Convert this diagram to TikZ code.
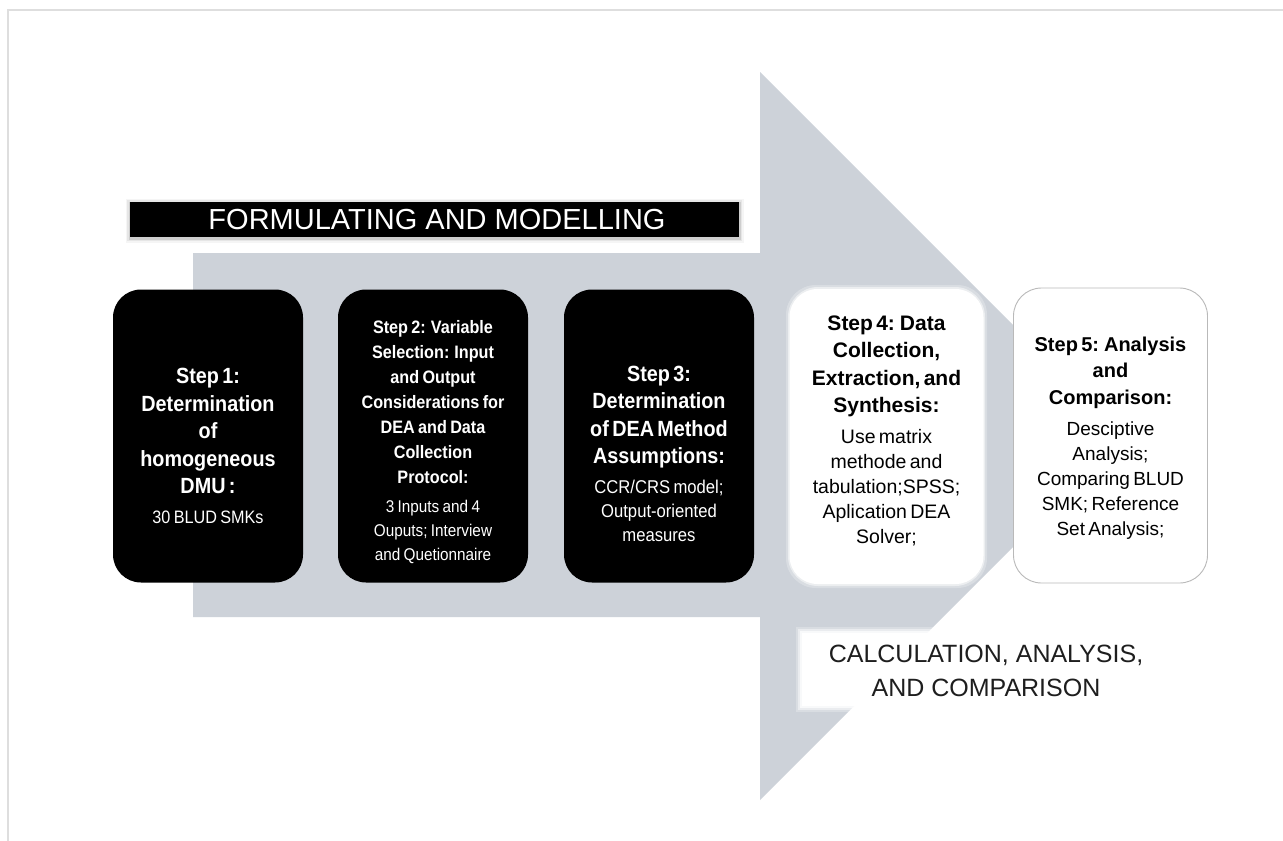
\documentclass[tikz,border=0pt]{standalone}
\usepackage{fontspec}
\setmainfont{Liberation Sans}
\newfontfamily\narrowfont[FakeStretch=0.9]{Liberation Sans}
\usetikzlibrary{positioning}
\definecolor{arrowgray}{RGB}{205,210,217}
\definecolor{framegray}{RGB}{222,222,222}
\definecolor{boxline}{RGB}{185,185,185}
\definecolor{darktext}{RGB}{30,30,30}
\tikzset{
  blackbox/.style={rectangle, rounded corners=28pt, fill=black, minimum width=190pt, minimum height=293pt, inner sep=0pt},
  whitebox/.style={rectangle, rounded corners=28pt, fill=white, minimum width=194pt, minimum height=295pt, inner sep=0pt},
  txtw/.style={align=center, text width=184pt, inner sep=0pt, text=white},
  txtb/.style={align=center, text width=184pt, inner sep=0pt, text=black},
}
\begin{document}
\begin{tikzpicture}[x=1pt,y=-1pt]
\useasboundingbox (0,0) rectangle (1283,841);
\fill[white] (0,0) rectangle (1283,841);
% page frame
\draw[framegray, line width=2pt] (8,841) -- (8,10) -- (1283,10);
% big arrow
\fill[arrowgray] (193,253) -- (760,253) -- (760,72) -- (1124,436) -- (760,800) -- (760,617) -- (193,617) -- cycle;
% white label area for the bottom caption (soft edges)
\foreach \d/\o in {6/0.25,4/0.45,2/0.7}{
  \fill[white, opacity=\o] (802-\d,633-\d) rectangle (1165+\d,706+\d);
}
\fill[white] (802,633) rectangle (1165,706);
\node[text=darktext, align=center, font=\fontsize{25}{34}\selectfont] (calc) at (986,671) {CALCULATION, ANALYSIS,\\AND COMPARISON};
% banner with soft shadow
\foreach \d/\o in {4.5/0.04,3/0.06,1.5/0.1}{
  \fill[black, opacity=\o] (130-\d,202-\d+1) rectangle (739+\d,237+\d+1);
}
\node[fill=black, minimum width=609pt, minimum height=35pt, inner sep=0pt, anchor=north west] (banner) at (130,202) {};
\node[text=white, font=\fontsize{29}{32}\selectfont] (bannertxt) at (437,220) {FORMULATING AND MODELLING};
% step boxes
\node[blackbox] (s1) at (208,436) {};
\node[blackbox] (s2) at (433,436) {};
\node[blackbox] (s3) at (659,436) {};
\foreach \d/\o in {4/0.25,2/0.5}{
  \fill[white, opacity=\o, rounded corners=30pt] (790-\d,289-\d) rectangle (983+\d,584+\d);
}
\node[whitebox] (s4) at (886.5,436.5) {};
\node[whitebox, draw=boxline, line width=0.9pt] (s5) at (1110.5,435.5) {};
% texts
\node[txtw] (t1) at (208,446) {{\narrowfont\bfseries\fontsize{22}{27.5}\selectfont Step 1:\\Determination\\of\\homogeneous\\DMU :\par}\vspace{6pt}{\narrowfont\fontsize{18}{24}\selectfont 30 BLUD SMKs\par}};
\node[txtw] (t2) at (433,442) {{\narrowfont\bfseries\fontsize{18}{25}\selectfont Step 2: Variable\\Selection: Input\\and Output\\Considerations for\\DEA and Data\\Collection\\Protocol:\par}\vspace{5pt}{\narrowfont\fontsize{17}{24}\selectfont 3 Inputs and 4\\Ouputs; Interview\\and Quetionnaire\par}};
\node[txtw] (t3) at (659,454) {{\narrowfont\bfseries\fontsize{22}{27.5}\selectfont Step 3:\\Determination\\of DEA Method\\Assumptions:\par}\vspace{6pt}{\narrowfont\fontsize{18.5}{24}\selectfont CCR/CRS model;\\Output-oriented\\measures\par}};
\node[txtb] (t4) at (886.5,431) {{\bfseries\fontsize{21}{27.5}\selectfont Step 4: Data\\Collection,\\Extraction, and\\Synthesis:\par}\vspace{6pt}{\fontsize{19.5}{25}\selectfont Use matrix\\methode and\\tabulation;SPSS;\\Aplication DEA\\Solver;\par}};
\node[txtb] (t5) at (1110.5,438) {{\bfseries\fontsize{20}{26.5}\selectfont Step 5: Analysis\\and\\Comparison:\par}\vspace{6pt}{\fontsize{19}{25}\selectfont Desciptive\\Analysis;\\Comparing BLUD\\SMK; Reference\\Set Analysis;\par}};
\end{tikzpicture}
\end{document}
